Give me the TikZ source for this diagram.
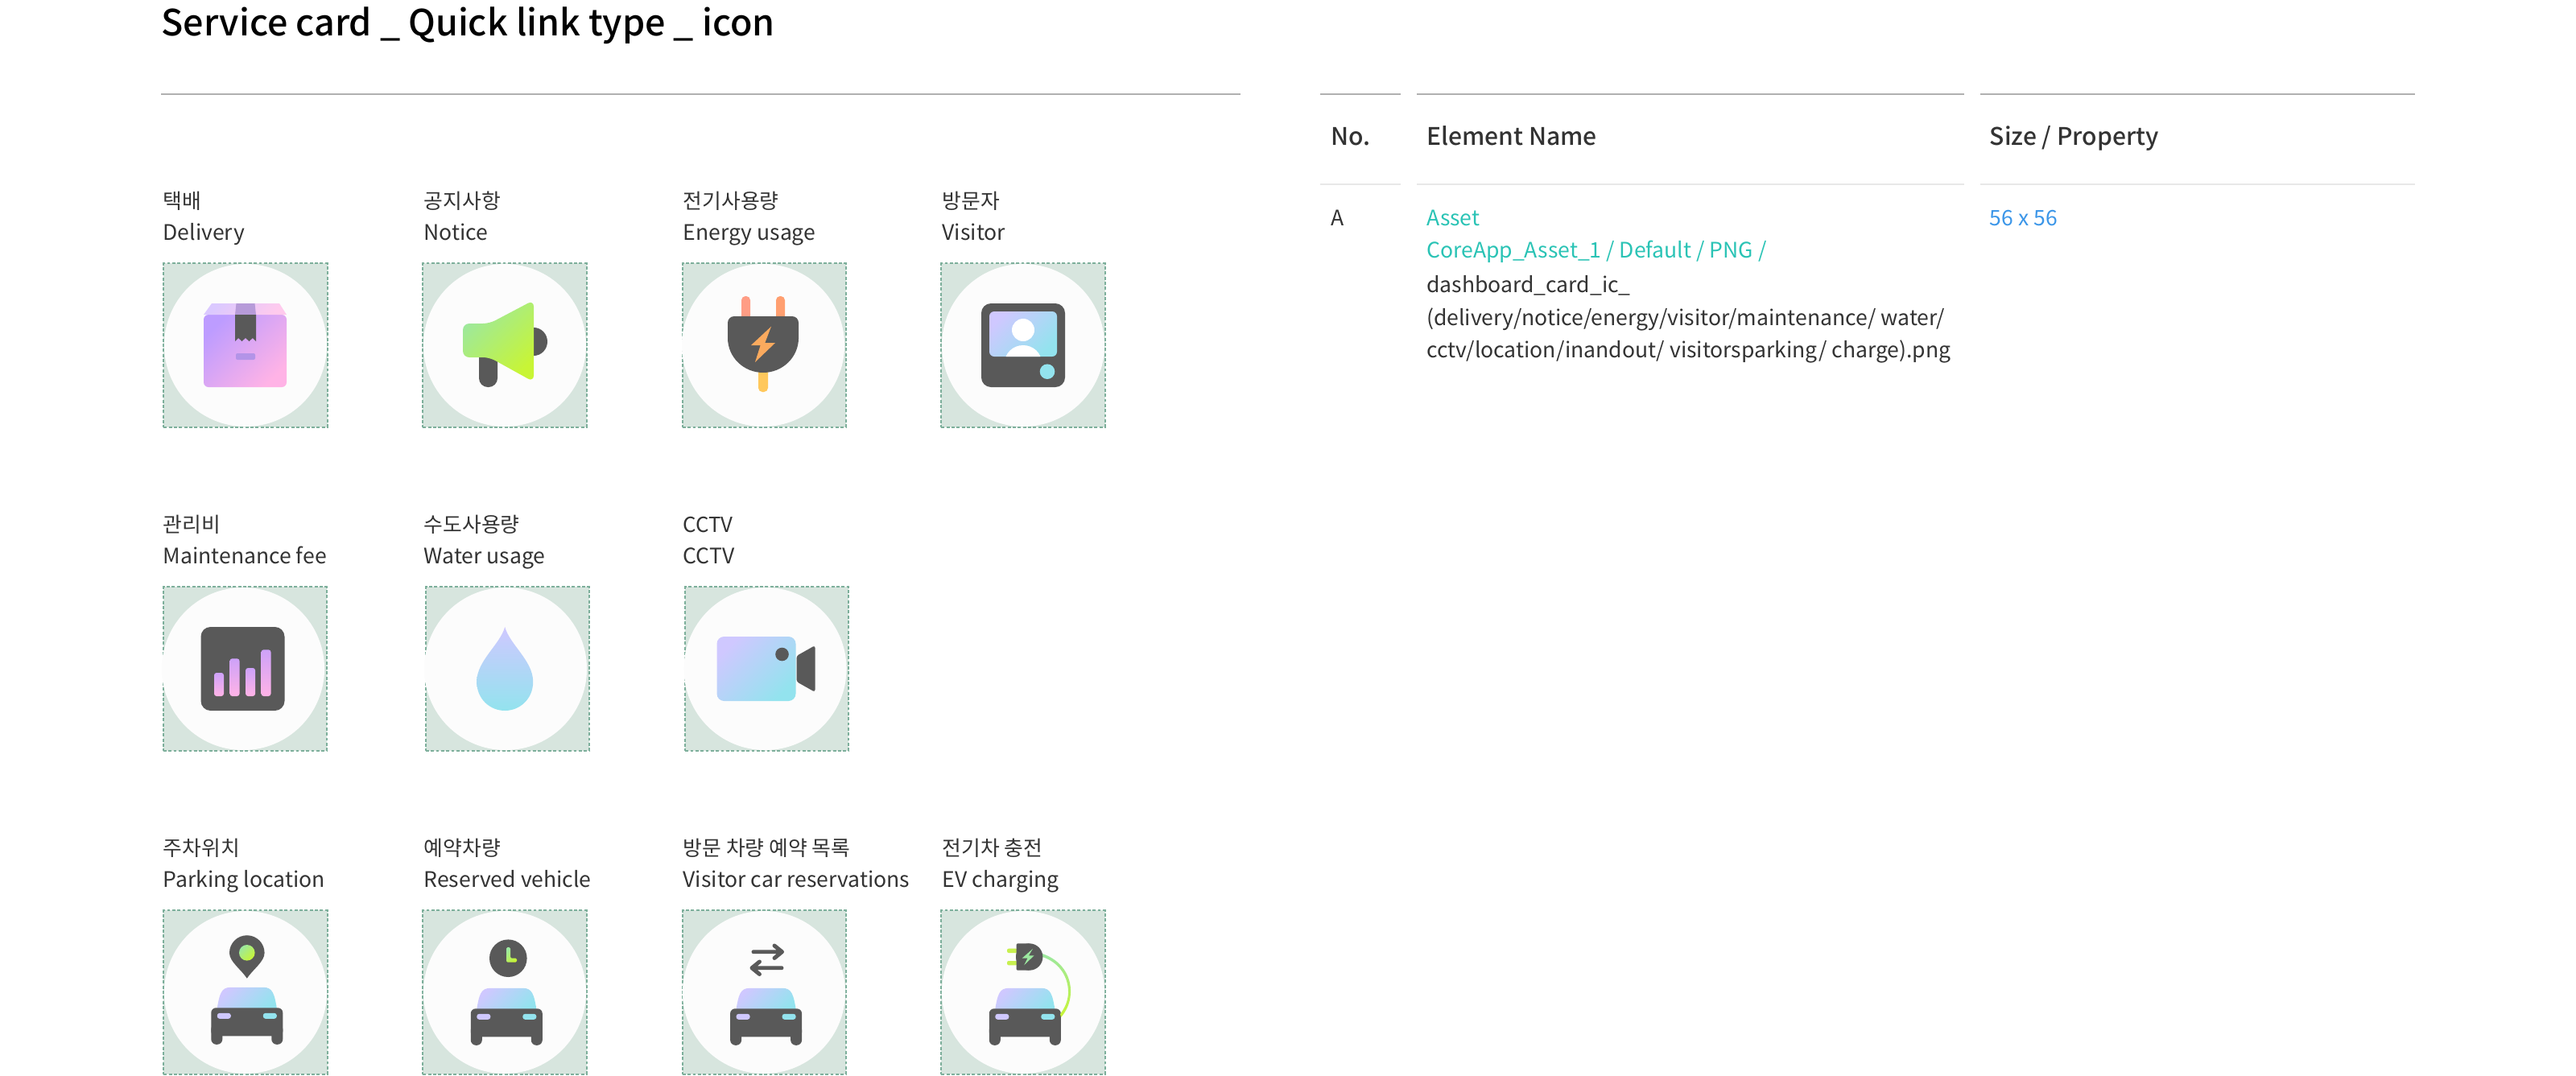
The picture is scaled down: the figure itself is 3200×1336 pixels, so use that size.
\documentclass[tikz,border=0pt]{standalone}
\usepackage{fontspec}
\setmainfont{Noto Sans CJK KR}
\newfontfamily\kofont{Noto Sans CJK KR}
\newfontfamily\medfont{Noto Sans CJK KR}[UprightFont=* Medium]
\usetikzlibrary{calc, positioning}
\definecolor{inkdark}{RGB}{89,89,89}
\definecolor{textdark}{RGB}{51,51,51}
\definecolor{rulegray}{RGB}{176,176,176}
\definecolor{rulelight}{RGB}{232,232,232}
\definecolor{cardfill}{RGB}{215,229,222}
\definecolor{carddash}{RGB}{125,175,155}
\definecolor{discfill}{RGB}{252,252,252}
\definecolor{assetteal}{RGB}{42,195,181}
\definecolor{sizeblue}{RGB}{60,150,232}
\definecolor{lilac}{RGB}{207,200,255}
\definecolor{aqua}{RGB}{147,227,238}
\definecolor{violet}{RGB}{189,156,255}
\definecolor{blush}{RGB}{255,179,230}
\definecolor{mint}{RGB}{156,232,160}
\definecolor{lime}{RGB}{200,245,53}
\definecolor{tapelid}{RGB}{183,155,217}
\definecolor{boxtag}{RGB}{179,148,232}
\definecolor{prongred}{RGB}{255,157,133}
\definecolor{prongorange}{RGB}{255,159,112}
\definecolor{prongyellow}{RGB}{255,200,92}
\definecolor{boltorange}{RGB}{251,170,94}
\definecolor{pronglime}{RGB}{200,240,80}
\tikzset{
  bodytext/.style={font=\fontsize{7.55}{10}\selectfont, anchor=base west, inner sep=0pt, text=textdark},
  kotext/.style={font=\kofont\fontsize{7.35}{10}\selectfont, anchor=base west, inner sep=0pt, text=textdark},
  headtext/.style={font=\medfont\fontsize{8.55}{10}\selectfont, anchor=base west, inner sep=0pt, text=textdark},
  cardbox/.style={rectangle, draw=carddash, fill=cardfill, dash pattern=on 1.1pt off 0.7pt,
    line width=0.55pt, minimum width=2.03cm, minimum height=2.03cm, inner sep=0pt},
  carddisc/.style={circle, fill=discfill, minimum size=2.02cm, inner sep=0pt},
  toprule/.style={draw=rulegray, line width=0.55pt},
  subrule/.style={draw=rulelight, line width=0.55pt},
  diag/.style 2 args={left color=#1, right color=#2, shading angle=45},
  vert/.style 2 args={top color=#1, bottom color=#2},
}
% front view of the car, origin at the top centre of its body
\newcommand{\carmark}[2]{
  \begin{scope}[shift={(#1,#2)}]
    \shade[diag={lilac}{aqua}] (-37.5,3) .. controls (-34,-18) and (-32,-25.5) .. (-20,-25.5)
      -- (20,-25.5) .. controls (32,-25.5) and (34,-18) .. (37.5,3) -- cycle;
    \fill[inkdark, rounded corners=0.06cm] (-44.5,0) rectangle (44.5,35);
    \fill[inkdark, rounded corners=0.065cm] (-44.5,20) rectangle (-30.5,45.5);
    \fill[inkdark, rounded corners=0.065cm] (30.5,20) rectangle (44.5,45.5);
    \fill[lilac, rounded corners=0.03cm] (-37,6.5) rectangle (-20,13.5);
    \fill[aqua, rounded corners=0.03cm] (20,6.5) rectangle (37,13.5);
  \end{scope}
}
\begin{document}
\begin{tikzpicture}[x=0.01cm, y=-0.01cm]
\useasboundingbox (0,0) rectangle (3200,1336);

% ---- Title and rules ----
\node[font=\medfont\fontsize{12.75}{15}\selectfont, anchor=base west, inner sep=0pt] (title)
  at (200,44) {Service card \_ Quick link type \_ icon};
\draw[toprule] (200,116.7) -- (1541,116.7);

% ---- Table ----
\foreach \xa/\xb in {1640/1740, 1760/2440, 2460/3000}{
  \draw[toprule] (\xa,116.7) -- (\xb,116.7);
  \draw[subrule] (\xa,228.7) -- (\xb,228.7);
}
\node[headtext] (headno) at (1653,180) {No.};
\node[headtext] (headname) at (1771.5,180) {Element Name};
\node[headtext] (headsize) at (2471,180) {Size / Property};
\node[bodytext] (rowno) at (1653,280.3) {A};
\node[bodytext, text=assetteal] (rowasset) at (1771.5,280.3) {Asset};
\node[bodytext, text=assetteal] (rowcore) at (1771.5,320.5) {CoreApp\_Asset\_1 / Default / PNG /};
\node[bodytext] (rowfile) at (1771.5,363.5) {dashboard\_card\_ic\_};
\node[bodytext] (rowlista) at (1771.5,404) {(delivery/notice/energy/visitor/maintenance/ water/};
\node[bodytext] (rowlistb) at (1771.5,444) {cctv/location/inandout/ visitorsparking/ charge).png};
\node[bodytext, text=sizeblue] (rowsize) at (2471,280.3) {56 x 56};

% ---- Cards ----
\foreach \nm/\bx/\by/\cx/\tx/\kt/\et in {
  delivery/305/429/305/202/택배/Delivery,
  notice/627/429/627/526/공지사항/Notice,
  energy/949.5/429/948/848/전기사용량/Energy usage,
  visitor/1271/429/1271/1170/방문자/Visitor,
  maintenance/304.5/831/302/202/관리비/Maintenance fee,
  water/630.5/831/628/526/수도사용량/Water usage,
  cctv/952.8/831/950.5/848/CCTV/CCTV,
  parking/305/1233/305/202/주차위치/Parking location,
  reserved/627/1233/627/526/예약차량/Reserved vehicle,
  inandout/949.5/1233/949/848/방문 차량 예약 목록/Visitor car reservations,
  charge/1271/1233/1271/1170/전기차 충전/EV charging}{
  \node[cardbox] (box\nm) at (\bx,\by) {};
  \node[carddisc] (disc\nm) at (\cx,\by) {};
  \node[kotext] (ko\nm) at ($(\tx,\by)+(0,-170)$) {\kt};
  \node[bodytext] (en\nm) at ($(\tx,\by)+(0,-130.5)$) {\et};
}

% ---- Delivery ----
\begin{scope}[shift={(305,429)}]
  \shade[diag={violet}{blush}, rounded corners=0.06cm] (-52,-38) -- (51,-38) -- (51,52) -- (-52,52) -- cycle;
  \shade[diag={violet!55!white}{blush!70!white}] (-52,-38) -- (-42,-52) -- (42,-52) -- (51,-38) -- cycle;
  \fill[tapelid] (-11.5,-52) -- (11.5,-52) -- (13,-38) -- (-13,-38) -- cycle;
  \fill[inkdark] (-13,-38) -- (13,-38) -- (13,-5) -- (8.9,-9) -- (4.5,-5) -- (0,-9) -- (-4.5,-5) -- (-8.9,-9) -- (-13,-5) -- cycle;
  \fill[boxtag, rounded corners=0.02cm] (-12,10) rectangle (12,18);
\end{scope}

% ---- Notice ----
\begin{scope}[shift={(627,429)}]
  \fill[inkdark] (36,-4.5) ellipse (17 and 17.5);
  \fill[inkdark, rounded corners=0.11cm] (-32,5) rectangle (-9,52);
  \shade[diag={mint}{lime}, rounded corners=0.08cm] (-52,-27) -- (-19,-27) -- (36,-56) -- (36,45.5) -- (-19,15) -- (-52,15) -- cycle;
\end{scope}

% ---- Energy usage ----
\begin{scope}[shift={(948,429)}]
  \fill[prongred, rounded corners=0.05cm] (-27,-61) rectangle (-16,-25);
  \fill[prongorange, rounded corners=0.05cm] (16,-61) rectangle (27,-25);
  \fill[prongyellow, rounded corners=0.05cm] (-6,20) rectangle (6,58);
  \fill[inkdark, rounded corners=0.08cm] (-44,-36) rectangle (44,0);
  \fill[inkdark] (-44,-9) .. controls (-44,15) and (-24,34) .. (0,34) .. controls (24,34) and (44,15) .. (44,-9) -- cycle;
  \fill[boltorange] (10,-23.3) -- (-15,0) -- (-3.3,0) -- (-10,21) -- (15,-3) -- (2.3,-3) -- cycle;
\end{scope}

% ---- Visitor ----
\begin{scope}[shift={(1271,429)}]
  \fill[inkdark, rounded corners=0.12cm] (-52,-52) rectangle (52,52);
  \begin{scope}
    \clip[rounded corners=0.06cm] (-42,-42) rectangle (42,14);
    \shade[diag={lilac}{aqua}] (-42,-42) rectangle (42,14);
    \fill[white] (0,-19) circle (14);
    \fill[white] (0,22) ellipse (23 and 22);
  \end{scope}
  \fill[aqua] (30,32.7) circle (9.3);
\end{scope}

% ---- Maintenance fee ----
\begin{scope}[shift={(301.5,831)}]
  \fill[inkdark, rounded corners=0.12cm] (-52,-52) rectangle (52,52);
  \foreach \xl/\yt in {-35.5/5, -16/-12.7, 3.6/-1, 23/-23.7}{
    \shade[vert={violet!75!blush}{blush}, rounded corners=0.03cm] (\xl,\yt) rectangle ($(\xl,34)+(12,0)$);
  }
\end{scope}

% ---- Water usage ----
\begin{scope}[shift={(627.2,831)}]
  \shade[vert={lilac}{aqua}] (0,-52) .. controls (6,-30) and (35,-10) .. (35,16)
    .. controls (35,38) and (18,52) .. (0,52) .. controls (-18,52) and (-35,38) .. (-35,16)
    .. controls (-35,-10) and (-6,-30) .. (0,-52) -- cycle;
\end{scope}

% ---- CCTV ----
\begin{scope}[shift={(950.5,831)}]
  \shade[diag={lilac}{aqua}, rounded corners=0.09cm] (-60,-40) rectangle (38,40);
  \fill[inkdark, rounded corners=0.03cm] (39,-16) -- (62,-29) -- (62,29) -- (39,16) -- cycle;
  \fill[inkdark] (21,-18) circle (8.3);
\end{scope}

% ---- Parking location ----
\carmark{306.8}{1252.3}
\fill[inkdark] (306.8,1215.7) .. controls (300,1205) and (285,1195) .. (285,1184)
  arc (180:360:21.8) .. controls (328.6,1195) and (313.6,1205) .. (306.8,1215.7) -- cycle;
\shade[diag={mint}{lime}] (306.8,1183.8) circle (9.8);

% ---- Reserved vehicle ----
\carmark{629.3}{1253.3}
\fill[inkdark] (631.3,1190.7) circle (23.3);
\shade[diag={mint}{lime}, rounded corners=0.015cm] (629,1177) -- (634,1177) -- (634,1190.7) -- (642,1190.7) -- (642,1195.7) -- (629,1195.7) -- cycle;

% ---- Visitor car reservations ----
\carmark{951.6}{1253.3}
\draw[inkdark, line width=1.4pt, line cap=round, line join=round]
  (936,1182.7) -- (971.5,1182.7) (962,1175) -- (971.5,1182.7) -- (962,1190.5);
\draw[inkdark, line width=1.4pt, line cap=round, line join=round]
  (971,1202.7) -- (934,1202.7) (943.5,1195) -- (934,1202.7) -- (943.5,1210.5);

% ---- EV charging ----
\carmark{1273.3}{1253.3}
\shade[vert={mint}{lime}] (1295,1185) .. controls (1318,1193) and (1331,1212) .. (1330,1234)
  .. controls (1329.5,1246) and (1325,1256) .. (1318,1264) -- (1317,1260)
  .. controls (1323,1252) and (1326.5,1244) .. (1327,1234)
  .. controls (1327.5,1214) and (1316,1196) .. (1295,1189) -- cycle;
\fill[pronglime, rounded corners=0.02cm] (1251,1178.7) rectangle (1264,1184);
\fill[pronglime, rounded corners=0.02cm] (1251,1194) rectangle (1264,1199.3);
\fill[inkdark, rounded corners=0.02cm] (1262.5,1172.3) rectangle (1280,1205.7);
\fill[inkdark] (1278.7,1189) circle (16.7);
\fill[mint] (1282.9,1179) -- (1269.6,1190.7) -- (1276.4,1190.7) -- (1272.1,1199.3) -- (1284.6,1187.3) -- (1277.9,1187.3) -- cycle;

\end{tikzpicture}
\end{document}
